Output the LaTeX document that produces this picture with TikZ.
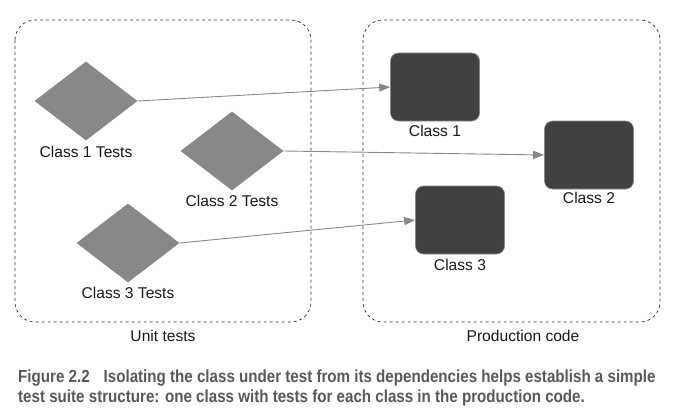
\documentclass[tikz,border=0pt]{standalone}
\usepackage{fontspec}
\setmainfont{Liberation Sans}
\newfontfamily\capfont{Liberation Sans Bold}[FakeStretch=0.865]
\usetikzlibrary{shapes.geometric,arrows.meta}

\definecolor{testgray}{HTML}{87888A}
\definecolor{classgray}{HTML}{414143}
\definecolor{captiongray}{HTML}{58595B}

\tikzset{
  testdiamond/.style={diamond,fill=testgray,inner sep=0pt,
                      minimum width=103pt,minimum height=79pt},
  classbox/.style={rectangle,rounded corners=8pt,fill=classgray,draw=testgray,
                   line width=0.6pt,minimum width=89pt,minimum height=68pt},
  groupbox/.style={draw=black!80,dashed,rounded corners=20pt,line width=0.7pt},
  label/.style={font=\fontsize{15.6}{18}\selectfont,text=black!90},
  uses/.style={draw=testgray,line width=0.9pt,-{Triangle[length=11pt,width=8pt]}}
}

\begin{document}
\begin{tikzpicture}[x=1pt,y=-1pt]
  \useasboundingbox[fill=white] (0,0) rectangle (680,412);
  % group frames
  \draw[groupbox] (15,20) rectangle (311,322);
  \draw[groupbox] (363,20) rectangle (660,322);
  \node[label]  (unit)  at (163,336) {Unit tests};
  \node[label]  (prod)  at (523,336) {Production code};
  % tests
  \node[testdiamond] (t1) at (86,101)  {};
  \node[testdiamond] (t2) at (232,151) {};
  \node[testdiamond] (t3) at (128,243) {};
  \node[label]  (t1l) at (86,152)  {Class 1 Tests};
  \node[label]  (t2l) at (232,201) {Class 2 Tests};
  \node[label]  (t3l) at (128,293) {Class 3 Tests};
  % classes
  \node[classbox] (c1) at (435,87)  {};
  \node[classbox] (c2) at (589,155) {};
  \node[classbox] (c3) at (460,220) {};
  \node[label]  (c1l) at (435,131) {Class 1};
  \node[label]  (c2l) at (589,198) {Class 2};
  \node[label]  (c3l) at (460,265) {Class 3};
  % dependencies
  \draw[uses] (t1.east) -- (c1.west);
  \draw[uses] (t2.east) -- (c2.west);
  \draw[uses] (t3.east) -- (c3.west);
  % caption
  \node[anchor=north west,align=left,inner sep=0pt,text=captiongray,
        font=\capfont\fontsize{17.5}{20}\selectfont] (cap) at (18,370)
    {Figure 2.2\hspace{0.8em}Isolating the class under test from its dependencies helps establish a simple\\
     test suite structure: one class with tests for each class in the production code.};
\end{tikzpicture}
\end{document}
